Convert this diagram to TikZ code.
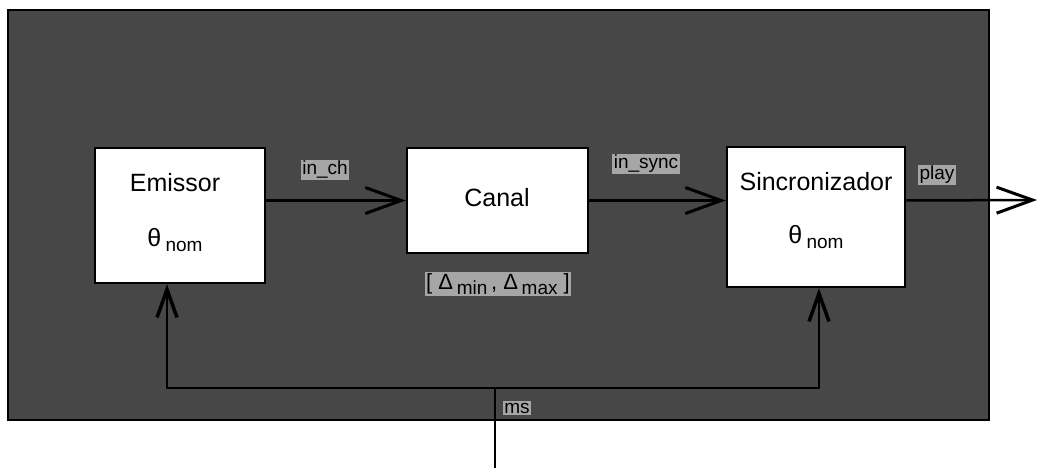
\documentclass[tikz,border=0pt]{standalone}
\usepackage{fontspec}
\setmainfont{Liberation Sans}
\usetikzlibrary{arrows.meta}
\begin{document}
\begin{tikzpicture}[x=1pt,y=-1pt,
  box/.style={draw=black,line width=2.5pt,fill=white,rectangle,inner sep=0pt},
  big/.style={font=\fontsize{25}{28}\selectfont,inner sep=0pt},
  lbl/.style={font=\fontsize{19}{21}\selectfont,fill=black!35,inner sep=1.5pt},
  arr/.style={line width=2.5pt,-{Straight Barb[length=36pt,width=26pt,line width=3pt]}},
  arrup/.style={line width=2.5pt,-{Straight Barb[length=28pt,width=20pt,line width=3.5pt]}}]
\useasboundingbox (0,0) rectangle (1039,468);
% outer halftone panel
\node[draw=black,line width=1.5pt,fill=black!72,rectangle,minimum width=981pt,minimum height=410pt,inner sep=0pt] (panel) at (498.5,215) {};
% boxes
\node[box,minimum width=170pt,minimum height=135pt] (emissor) at (180,215.5) {};
\node[box,minimum width=181pt,minimum height=105pt] (canal) at (497.5,200.5) {};
\node[box,minimum width=178pt,minimum height=140pt] (sinc) at (816,217) {};
% box texts
\node[big] (emT) at (175,183) {Emissor};
\node[big] (emTh) at (175,240) {θ\,\raisebox{-5pt}{\fontsize{19}{21}\selectfont nom}};
\node[big] (caT) at (497,198) {Canal};
\node[big] (siT) at (816,182) {Sincronizador};
\node[big] (siTh) at (816,237) {θ\,\raisebox{-5pt}{\fontsize{19}{21}\selectfont nom}};
% connectors
\coordinate (out) at (1037,200);
\coordinate (ms) at (495,468);
\coordinate (j) at (495,388);
\draw[arr] (emissor.east |- canal.west) -- (canal.west);
\draw[arr] (canal.east) -- (sinc.west |- canal.east);
\draw[arr] (sinc.east |- canal.east) -- (out);
\draw[line width=2.5pt] (ms) -- (j);
\draw[arrup] (j) -| ([xshift=-13pt]emissor.south);
\draw[arrup] (j) -| ([xshift=3pt]sinc.south);
% labels
\node[lbl] (linch) at (325,170) {in\_ch};
\node[lbl] (linsync) at (646,164) {in\_sync};
\node[lbl] (lplay) at (937,175) {play};
\node[lbl,font=\fontsize{22}{24}\selectfont] (ldelta) at (498,284) {[ Δ\,\raisebox{-5pt}{\fontsize{19}{21}\selectfont min}\,, Δ\,\raisebox{-5pt}{\fontsize{19}{21}\selectfont max} ]};
\node[lbl] (lms) at (517,408) {ms};
\end{tikzpicture}
\end{document}
